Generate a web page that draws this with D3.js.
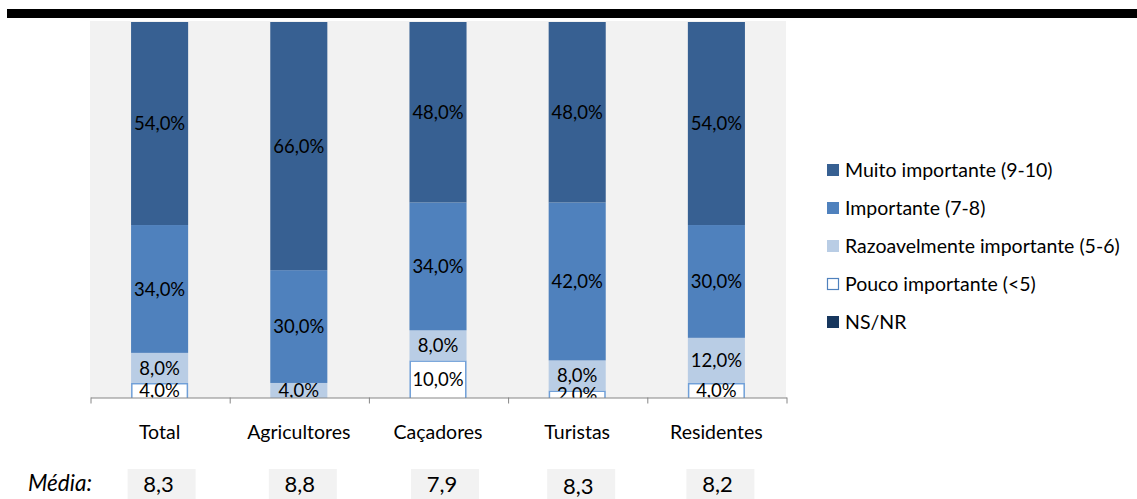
<!DOCTYPE html>
<html>
<head>
<meta charset="utf-8">
<script src="https://cdn.jsdelivr.net/npm/d3@7"></script>
<style>
  html, body { margin: 0; padding: 0; background: #ffffff; }
  svg { display: block; font-family: Lato, "Open Sans", sans-serif; }
</style>
</head>
<body>
<svg id="chart" width="1137" height="499"></svg>
<script>
const categories = ["Total", "Agricultores", "Caçadores", "Turistas", "Residentes"];
const pouco = [4, 0, 10, 2, 4];
const razoavel = [8, 4, 8, 8, 12];
const importante = [34, 30, 34, 42, 30];
const muito = [54, 66, 48, 48, 54];
const nsnr = [0, 0, 0, 0, 0];
const medias = ["8,3", "8,8", "7,9", "8,3", "8,2"];
const legendOrder = ["Muito importante (9-10)", "Importante (7-8)", "Razoavelmente importante (5-6)", "Pouco importante (<5)", "NS/NR"];

const seriesData = [pouco, razoavel, importante, muito, nsnr];
const fills = ["#ffffff", "#b9cde5", "#4f81bd", "#376092", "#17375e"];
const strokes = ["#6f9fd8", "none", "none", "none", "none"];

const svg = d3.select("#chart");

// top black rule
svg.append("rect").attr("x", 7).attr("y", 9).attr("width", 1130).attr("height", 9).attr("fill", "#000");

const plot = { left: 90, right: 786, top: 21, bottom: 398 };

svg.append("rect")
  .attr("x", plot.left).attr("y", plot.top)
  .attr("width", plot.right - plot.left).attr("height", plot.bottom - plot.top)
  .attr("fill", "#f2f2f2");

const x = d3.scaleBand().domain(categories).range([plot.left, plot.right])
  .paddingInner(0.59).paddingOuter(0.295);
const y = d3.scaleLinear().domain([0, 100]).range([plot.bottom, 22]);

const table = categories.map((c, i) => {
  const row = { cat: c };
  seriesData.forEach((s, k) => row["s" + k] = s[i]);
  return row;
});
const stack = d3.stack().keys(seriesData.map((s, k) => "s" + k))(table);

svg.append("clipPath").attr("id", "clip")
  .append("rect").attr("x", plot.left).attr("y", plot.top)
  .attr("width", plot.right - plot.left).attr("height", plot.bottom - plot.top);

const g = svg.append("g").attr("clip-path", "url(#clip)");

stack.forEach((layer, k) => {
  layer.forEach((d, i) => {
    if (d[1] - d[0] <= 0) return;
    const isPouco = k === 0;
    const x0 = x(categories[i]), w = x.bandwidth();
    const y0 = y(d[1]), h = y(d[0]) - y(d[1]);
    g.append("rect")
      .attr("x", isPouco ? x0 + 0.75 : x0)
      .attr("y", isPouco ? y0 + 0.75 : y0)
      .attr("width", isPouco ? w - 1.5 : w)
      .attr("height", h)
      .attr("fill", fills[k])
      .attr("stroke", strokes[k])
      .attr("stroke-width", isPouco ? 1.5 : 0);
  });
});

// labels
stack.forEach((layer, k) => {
  layer.forEach((d, i) => {
    const v = d[1] - d[0];
    if (v <= 0) return;
    g.append("text")
      .attr("x", x(categories[i]) + x.bandwidth() / 2)
      .attr("y", (y(d[0]) + y(d[1])) / 2)
      .attr("dy", "0.36em")
      .attr("text-anchor", "middle")
      .attr("font-size", 18.5)
      .attr("fill", "#000")
      .text(d3.format(".1f")(v).replace(".", ",") + "%");
  });
});

// axis
const xt = d3.scaleLinear().domain([0, categories.length]).range([plot.left, plot.right]);
const axis = svg.append("g").attr("transform", `translate(0.5,${plot.bottom - 0.5})`)
  .call(d3.axisBottom(xt).tickValues(d3.range(categories.length + 1)).tickFormat("").tickSize(6).tickSizeOuter(0));
axis.select(".domain").attr("stroke", "#868686");
axis.selectAll(".tick line").attr("stroke", "#868686");

// category labels
svg.append("g").selectAll("text").data(categories).join("text")
  .attr("x", d => x(d) + x.bandwidth() / 2)
  .attr("y", 439)
  .attr("text-anchor", "middle")
  .attr("font-size", 19.5)
  .attr("fill", "#000")
  .text(d => d);

// Média row
svg.append("text").attr("x", 28).attr("y", 491)
  .attr("font-size", 22.5).attr("font-style", "italic").attr("fill", "#000").text("Média:");
const boxOffsets = [2, 4, 7, 4, 4];
const mg = svg.append("g");
medias.forEach((m, i) => {
  const cx = x(categories[i]) + x.bandwidth() / 2 + boxOffsets[i];
  mg.append("rect").attr("x", cx - 34).attr("y", 469).attr("width", 68).attr("height", 31).attr("fill", "#f2f2f2");
  mg.append("text").attr("x", cx - 3).attr("y", i === 3 ? 494 : 492)
    .attr("text-anchor", "middle").attr("font-size", 22).attr("fill", "#000").text(m);
});

// legend
const legendFills = ["#376092", "#4f81bd", "#b9cde5", "#ffffff", "#17375e"];
const legendStrokes = ["none", "none", "none", "#4f81bd", "none"];
const lg = svg.append("g");
legendOrder.forEach((name, i) => {
  const cy = 170 + i * 38;
  lg.append("rect").attr("x", i === 3 ? 827.5 : 827).attr("y", i === 3 ? cy - 5.5 : cy - 6)
    .attr("width", i === 3 ? 11 : 12).attr("height", i === 3 ? 11 : 12)
    .attr("fill", legendFills[i]).attr("stroke", legendStrokes[i]).attr("stroke-width", 1.2);
  lg.append("text").attr("x", 845).attr("y", cy).attr("dy", "0.36em")
    .attr("font-size", 19.5).attr("fill", "#000").text(name);
});
</script>
</body>
</html>
